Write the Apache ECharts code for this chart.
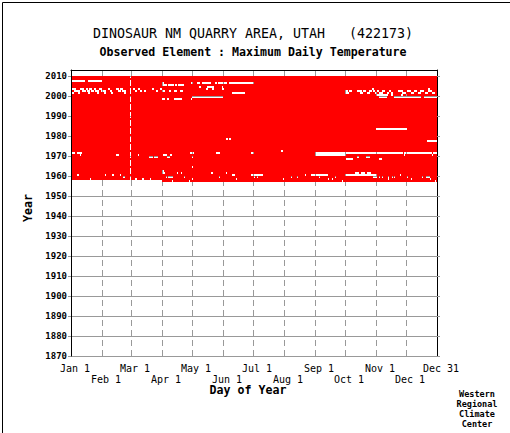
<!DOCTYPE html>
<html>
<head>
<meta charset="utf-8">
<script src="https://cdn.jsdelivr.net/npm/echarts@6/dist/echarts.min.js"></script>
<style>
html,body{margin:0;padding:0;background:#fff;}
#chart{width:510px;height:433px;}
</style>
</head>
<body>
<div id="chart"></div>
<script>
// ---- text ----
const TITLE = 'DINOSAUR NM QUARRY AREA, UTAH   (422173)';
const SUBTITLE = 'Observed Element : Maximum Daily Temperature';
const X_NAME = 'Day of Year';
const Y_NAME = 'Year';
const CREDIT = ['Western', 'Regional', 'Climate', 'Center'];

// ---- axes (day offsets from Jan 1 on a 366-day year) ----
const LABELS_ROW1 = ['Jan 1', 'Mar 1', 'May 1', 'Jul 1', 'Sep 1', 'Nov 1', 'Dec 31'];
const POS_ROW1 = [0, 60, 121, 182, 244, 305, 366];
const LABELS_ROW2 = ['Feb 1', 'Apr 1', 'Jun 1', 'Aug 1', 'Oct 1', 'Dec 1'];
const POS_ROW2 = [31, 91, 152, 213, 274, 335];
const MONTH_STARTS = [31, 60, 91, 121, 152, 182, 213, 244, 274, 305, 335];
const YEAR_TICKS = [1870, 1880, 1890, 1900, 1910, 1920, 1930, 1940, 1950, 1960, 1970, 1980, 1990, 2000, 2010];

// ---- record period ----
const FIRST_YEAR = 1957;
const FIRST_DAY = 92;     // record begins Apr 1, 1957
const LAST_YEAR = 2009;
const LAST_DAY = 366;
const LEAP_DAY = 60;      // Feb 29 slot, absent in non-leap years

// ---- missing data: [year, firstDay, lastDay] (day of a 366-day year) ----
const GAPS = [
  [2007,1,14],[2007,18,31],
  [2006,92,93],[2006,121,122],[2006,127,129],[2006,132,140],[2006,145,146],[2006,148,156],[2006,159,183],
  [2005,92,96],[2005,98,103],[2005,105,106],[2005,108,113],
  [2004,129,130],[2004,137,143],[2004,152,152],
  [2003,1,5],[2003,10,13],[2003,16,17],[2003,19,21],[2003,24,25],[2003,29,31],[2003,38,39],[2003,46,48],
  [2003,50,52],[2003,63,64],[2003,68,69],[2003,82,83],[2003,90,91],[2003,136,137],[2003,142,143],
  [2003,152,153],[2003,302,303],[2003,358,359],
  [2002,4,9],[2002,12,15],[2002,17,19],[2002,21,23],[2002,25,28],[2002,31,35],[2002,40,41],[2002,48,50],
  [2002,52,55],[2002,65,66],[2002,70,71],[2002,74,75],[2002,86,87],[2002,92,94],[2002,99,100],
  [2002,104,106],[2002,110,112],[2002,275,277],[2002,279,281],[2002,287,291],[2002,293,295],
  [2002,299,301],[2002,303,304],[2002,307,308],[2002,312,314],[2002,319,320],[2002,328,332],
  [2002,337,340],[2002,344,346],[2002,350,353],[2002,358,361],
  [2001,2,3],[2001,8,9],[2001,18,19],[2001,27,28],[2001,34,35],[2001,41,42],[2001,54,55],[2001,162,174],
  [2001,275,278],[2001,290,292],[2001,297,299],[2001,305,306],[2001,309,312],[2001,317,318],
  [2001,321,322],[2001,332,335],[2001,341,343],[2001,348,350],[2001,355,357],[2001,362,364],
  [2000,306,317],[2000,321,322],[2000,331,332],[2000,336,336],
  [1999,122,152],[1999,309,316],[1999,324,350],[1999,354,366],
  [1998,92,94],[1998,97,98],[1998,104,111],[1998,121,121],
  [1983,306,336],
  [1978,156,157],[1978,159,160],
  [1977,357,366],
  [1972,211,212],
  [1971,2,4],[1971,7,11],[1971,120,123],[1971,146,149],[1971,181,183],[1971,245,332],[1971,334,361],[1971,363,366],
  [1970,10,10],[1970,46,48],[1970,68,68],[1970,93,96],[1970,100,101],[1970,245,275],[1970,334,334],[1970,362,362],
  [1969,79,82],[1969,84,87],[1969,97,99],[1969,122,122],[1969,287,288],[1969,296,299],
  [1968,276,282],[1968,309,311],
  [1964,122,122],
  [1962,92,93],
  [1961,92,94],[1961,107,107],[1961,111,111],[1961,141,142],[1961,156,156],[1961,285,288],[1961,291,294],[1961,297,300],
  [1960,7,8],[1960,35,35],[1960,42,43],[1960,50,50],[1960,162,164],[1960,181,192],[1960,235,235],
  [1960,241,257],[1960,275,306],[1960,330,330],
  [1959,53,54],[1959,96,96],[1959,98,102],[1959,114,114],[1959,149,149],[1959,184,184],[1959,187,187],
  [1959,221,221],[1959,227,227],[1959,249,249],[1959,265,265],[1959,303,306],[1959,309,309],
  [1959,312,312],[1959,318,318],[1959,322,322],[1959,324,324],[1959,337,337],[1959,352,352],[1959,356,359],
  [1958,20,20],[1958,65,66],[1958,72,73],[1958,80,80],[1958,122,122],[1958,166,166],[1958,213,213],
  [1958,258,258],[1958,262,262],[1958,318,318],[1958,341,341],[1958,360,360],
  [1957,102,102],[1957,119,119],[1957,272,272],[1957,365,365]
];

// ---- build present-data runs from the record period minus the gaps ----
function isLeap(y) { return (y % 4 === 0 && y % 100 !== 0) || y % 400 === 0; }
const runs = [];
for (let y = FIRST_YEAR; y <= LAST_YEAR; y++) {
  const s = (y === FIRST_YEAR) ? FIRST_DAY : 1;
  const e = (y === LAST_YEAR) ? LAST_DAY : 366;
  const miss = new Set();
  GAPS.forEach(g => { if (g[0] === y) for (let d = g[1]; d <= g[2]; d++) miss.add(d); });
  if (!isLeap(y)) miss.add(LEAP_DAY);
  let start = null;
  for (let d = s; d <= e + 1; d++) {
    const present = d <= e && !miss.has(d);
    if (present && start === null) start = d;
    if (!present && start !== null) { runs.push([start - 1, d - 1, y]); start = null; }
  }
}

const MONO = '"DejaVu Sans Mono", "Liberation Mono", monospace';
const GRID_GRAY = '#999999';

const chart = echarts.init(document.getElementById('chart'), null, { renderer: 'svg' });

chart.setOption({
  animation: false,
  backgroundColor: '#ffffff',
  grid: { left: 71, right: 73, top: 70, bottom: 77, containLabel: false },
  xAxis: [
    {
      type: 'value', min: 0, max: 366, position: 'bottom', z: 0,
      axisLine: { show: true, lineStyle: { color: GRID_GRAY, width: 1 } },
      axisTick: { show: false, customValues: MONTH_STARTS },
      splitLine: { show: true, lineStyle: { color: GRID_GRAY, width: 1, type: [6, 4] } },
      axisLabel: {
        customValues: POS_ROW1,
        formatter: v => LABELS_ROW1[POS_ROW1.indexOf(v)] || '',
        margin: 7, color: '#000', fontFamily: MONO, fontSize: 10, padding: [0, 0, 0, 8]
      }
    },
    {
      type: 'value', min: 0, max: 366, position: 'bottom', z: 0,
      axisLine: { show: false }, axisTick: { show: false }, splitLine: { show: false },
      axisLabel: {
        customValues: POS_ROW2,
        formatter: v => LABELS_ROW2[POS_ROW2.indexOf(v)] || '',
        margin: 18, color: '#000', fontFamily: MONO, fontSize: 10, padding: [0, 0, 0, 8]
      }
    },
    {
      type: 'value', min: 0, max: 366, position: 'top', z: 5,
      axisLine: { show: true, lineStyle: { color: '#000', width: 1 } },
      axisTick: { show: false }, axisLabel: { show: false }, splitLine: { show: false }
    }
  ],
  yAxis: [
    {
      type: 'value', min: 1870, max: 2013, interval: 10, position: 'left', z: 0,
      axisLine: { show: false },
      axisTick: { show: true, inside: false, length: 3, customValues: YEAR_TICKS, lineStyle: { color: GRID_GRAY } },
      splitLine: { show: true, lineStyle: { color: GRID_GRAY, width: 1 } },
      axisLabel: {
        customValues: YEAR_TICKS, margin: 4, color: '#000',
        formatter: v => String(v),
        fontFamily: MONO, fontSize: 9, fontWeight: 'bold'
      }
    },
    {
      type: 'value', min: 1870, max: 2013, interval: 10, position: 'left', z: 5,
      axisLine: { show: true, onZero: false, lineStyle: { color: '#000', width: 1 } },
      axisTick: { show: false }, axisLabel: { show: false }, splitLine: { show: false }
    },
    {
      type: 'value', min: 1870, max: 2013, interval: 10, position: 'right', z: 5,
      axisLine: { show: true, onZero: false, lineStyle: { color: '#000', width: 1 } },
      axisTick: { show: true, inside: false, length: 3, customValues: YEAR_TICKS, lineStyle: { color: GRID_GRAY } },
      axisLabel: { show: false }, splitLine: { show: false }
    }
  ],
  series: [
    {
      type: 'custom',
      xAxisIndex: 0, yAxisIndex: 0, z: 2, silent: true,
      encode: { x: [0, 1], y: 2 },
      data: runs,
      renderItem: function (params, api) {
        const p0 = api.coord([api.value(0), api.value(2) + 1]);
        const p1 = api.coord([api.value(1), api.value(2)]);
        return {
          type: 'rect',
          shape: { x: p0[0], y: p0[1], width: p1[0] - p0[0], height: p1[1] - p0[1] },
          style: { fill: '#ff0000', stroke: null }
        };
      }
    }
  ],
  graphic: [
    { type: 'rect', left: 0, top: 0, z: 10, silent: true,
      shape: { x: 0.5, y: 0.5, width: 509, height: 432 },
      style: { fill: null, stroke: '#000', lineWidth: 1 } },
    { type: 'text', x: 253, y: 33, z: 10, style: { text: TITLE, textAlign: 'center', textVerticalAlign: 'middle',
      font: '13.3px ' + MONO, fill: '#000' } },
    { type: 'text', x: 253, y: 52, z: 10, style: { text: SUBTITLE, textAlign: 'center', textVerticalAlign: 'middle',
      font: 'bold 11.6px ' + MONO, fill: '#000' } },
    { type: 'text', x: 248, y: 390, z: 10, style: { text: X_NAME, textAlign: 'center', textVerticalAlign: 'middle',
      font: 'bold 11.6px ' + MONO, fill: '#000' } },
    { type: 'text', x: 28, y: 208, rotation: Math.PI / 2, z: 10, style: { text: Y_NAME, textAlign: 'center', textVerticalAlign: 'middle',
      font: 'bold 11.6px ' + MONO, fill: '#000' } },
    { type: 'text', x: 477, y: 409, z: 10, style: { text: CREDIT.join('\n'), textAlign: 'center', textVerticalAlign: 'middle',
      font: 'bold 8.5px ' + MONO, lineHeight: 10, fill: '#000' } }
  ]
});
</script>
</body>
</html>
